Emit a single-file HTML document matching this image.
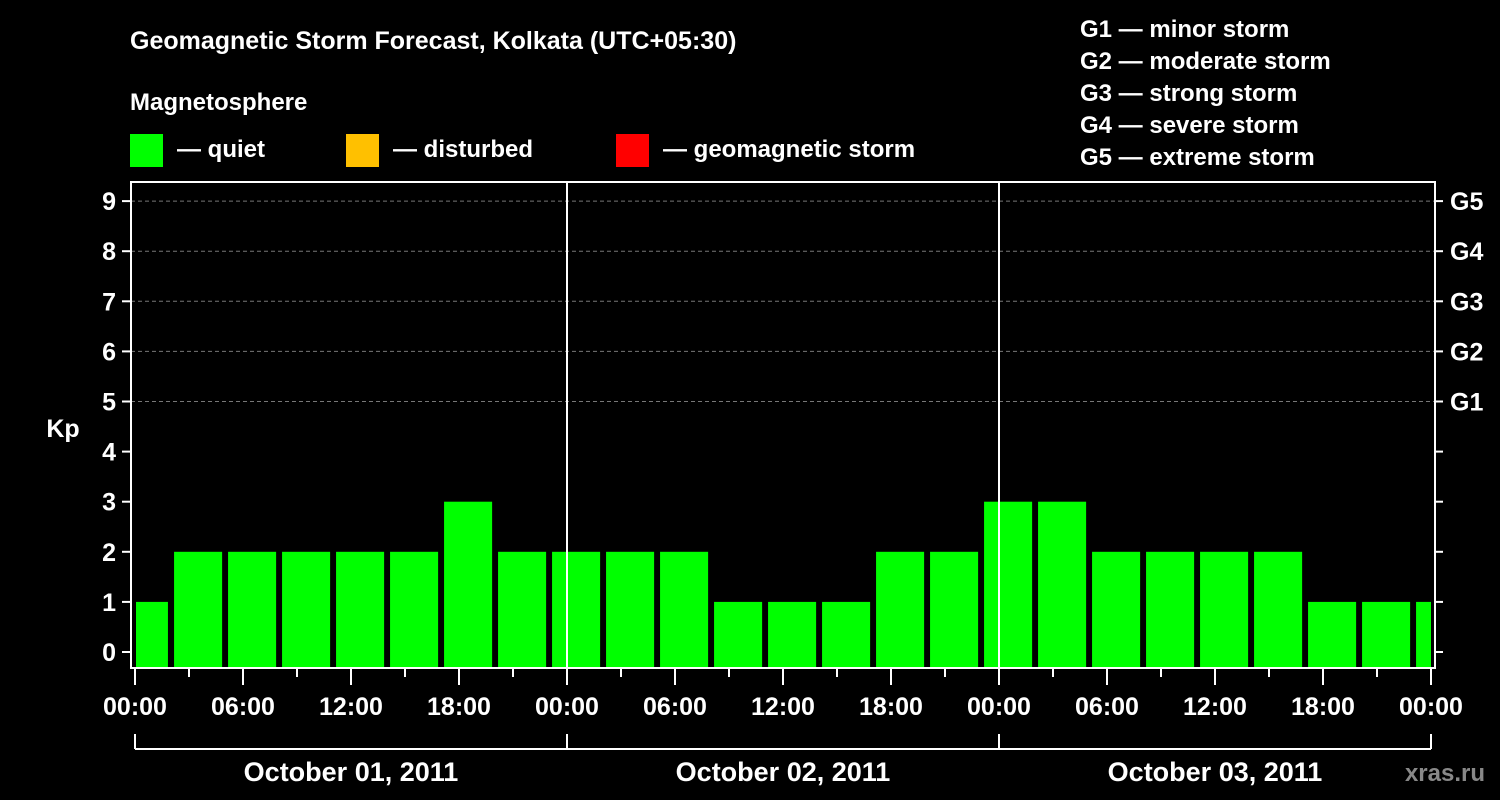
<!DOCTYPE html>
<html><head><meta charset="utf-8"><style>
html,body{margin:0;padding:0;background:#000;}
svg{display:block;font-family:"Liberation Sans",Arial,sans-serif;font-weight:bold;}
</style></head><body>
<svg id="chart" width="1500" height="800" viewBox="0 0 1500 800" xmlns="http://www.w3.org/2000/svg">
<rect width="1500" height="800" fill="#000"/>
<text x="130" y="49" fill="#fff" font-size="25">Geomagnetic Storm Forecast, Kolkata (UTC+05:30)</text>
<text x="130" y="110" fill="#fff" font-size="24">Magnetosphere</text>
<g><rect x="130" y="134" width="33" height="33" fill="#00ff00"/><text x="177" y="157" fill="#fff" font-size="24">— quiet</text></g>
<g><rect x="346" y="134" width="33" height="33" fill="#ffc000"/><text x="393" y="157" fill="#fff" font-size="24">— disturbed</text></g>
<g><rect x="616" y="134" width="33" height="33" fill="#ff0000"/><text x="663" y="157" fill="#fff" font-size="24">— geomagnetic storm</text></g>
<g fill="#fff" font-size="24">
<text x="1080" y="37">G1 — minor storm</text>
<text x="1080" y="69">G2 — moderate storm</text>
<text x="1080" y="101">G3 — strong storm</text>
<text x="1080" y="133">G4 — severe storm</text>
<text x="1080" y="165">G5 — extreme storm</text>
</g>
<text x="63" y="437" fill="#fff" font-size="25" text-anchor="middle">Kp</text>
<g id="grid"></g><g id="bars"></g><g id="axes"></g>
<text x="1485" y="781" fill="#888" font-size="24" text-anchor="end">xras.ru</text>
</svg>
<script>
const kpValues=[1,2,2,2,2,2,3,2,2,2,2,1,1,1,2,2,3,3,2,2,2,2,1,1,1];
const yTicks=[0,1,2,3,4,5,6,7,8,9];
const gLabels=["G1","G2","G3","G4","G5"];
const timeLabels=["00:00","06:00","12:00","18:00","00:00","06:00","12:00","18:00","00:00","06:00","12:00","18:00","00:00"];
const dayLabels=["October 01, 2011","October 02, 2011","October 03, 2011"];
const NS="http://www.w3.org/2000/svg";
const L=131,R=1435,T=182,B=668,X0=135,PXH=18;
const y=v=>652-50.1*v;
const x=h=>X0+h*PXH;
function mk(tag,attrs,parent,txt){const e=document.createElementNS(NS,tag);for(const k in attrs)e.setAttribute(k,attrs[k]);if(txt!==undefined)e.textContent=txt;parent.appendChild(e);return e;}
const grid=document.getElementById('grid'),bars=document.getElementById('bars'),axes=document.getElementById('axes');
for(let v=5;v<=9;v++){const l=mk('line',{x1:L,x2:R,y1:y(v),y2:y(v),stroke:'#777','stroke-dasharray':'4,3','stroke-width':1},grid);

}
// bars: slot boundaries at local 02:10 offset, 3h each
kpValues.forEach((v,i)=>{let x1,x2;
if(i===0){x1=x(0)+1;x2=x(1.83);}else{const s=2.17+3*(i-1);x1=x(s);x2=Math.min(x(s+2.67),x(72));}
const r=mk('rect',{x:x1,y:y(v),width:x2-x1,height:B-y(v),fill:'#00ff00'},bars);

});
const fr=mk('rect',{x:L,y:T,width:R-L,height:B-T,fill:'none',stroke:'#fff','stroke-width':2},axes);


[24,48].forEach(h=>{const l=mk('line',{x1:x(h),x2:x(h),y1:T,y2:B,stroke:'#fff','stroke-width':2},axes);

});
yTicks.forEach(v=>{mk('line',{x1:122,x2:L,y1:y(v),y2:y(v),stroke:'#fff','stroke-width':2},axes);
mk('line',{x1:R,x2:R+8,y1:y(v),y2:y(v),stroke:'#fff','stroke-width':2},axes);
const t=mk('text',{x:116,y:y(v)+9,fill:'#fff','font-size':25,'text-anchor':'end'},axes,String(v));

});
gLabels.forEach((g,i)=>{const t=mk('text',{x:1450,y:y(5+i)+9,fill:'#fff','font-size':25},axes,g);

});
for(let h=0;h<=72;h+=3){const major=h%6===0;mk('line',{x1:x(h),x2:x(h),y1:B,y2:B+(major?17:9),stroke:'#fff','stroke-width':2},axes);}
timeLabels.forEach((s,i)=>{const t=mk('text',{x:x(i*6),y:715,fill:'#fff','font-size':25,'text-anchor':'middle'},axes,s);

});
mk('line',{x1:x(0),x2:x(72),y1:749,y2:749,stroke:'#fff','stroke-width':2},axes);
[0,24,48,72].forEach(h=>mk('line',{x1:x(h),x2:x(h),y1:734,y2:749,stroke:'#fff','stroke-width':2},axes));
dayLabels.forEach((d,i)=>{const t=mk('text',{x:x(i*24+12),y:781,fill:'#fff','font-size':27,'text-anchor':'middle'},axes,d);

});
</script>
</body></html>
